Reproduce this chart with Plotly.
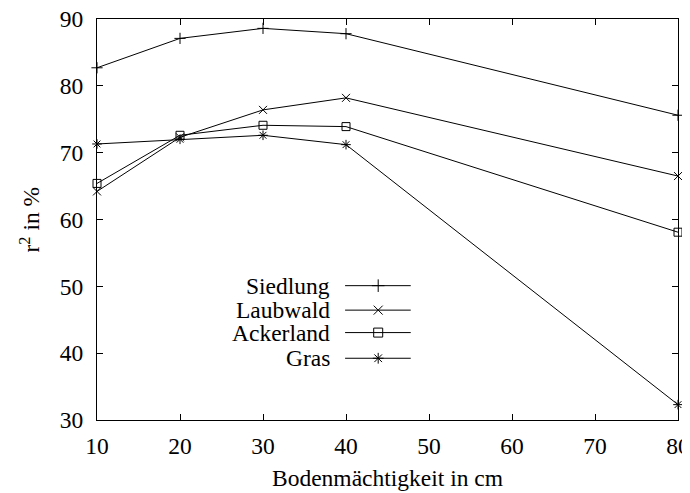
import plotly.graph_objects as go

depth = [10, 20, 30, 40, 80]
siedlung = [82.7, 87.1, 88.6, 87.8, 75.6]
laubwald = [64.2, 72.3, 76.4, 78.2, 66.5]
ackerland = [65.4, 72.6, 74.1, 73.9, 58.1]
gras = [71.3, 72.0, 72.6, 71.2, 32.3]

names = ["Siedlung", "Laubwald", "Ackerland", "Gras"]
series = [siedlung, laubwald, ackerland, gras]
symbols = ["cross-thin-open", "x-thin-open", "square-open", "asterisk-open"]
sizes = [8, 8, 8, 8]

FONT = "Liberation Serif"
FS = 23.5

fig = go.Figure()
for n, s, sym, sz in zip(names, series, symbols, sizes):
    fig.add_trace(go.Scatter(
        x=depth, y=s, name=n, mode="lines+markers",
        line=dict(color="black", width=1),
        marker=dict(symbol=sym, size=sz, color="black",
                    line=dict(color="black", width=1)),
        showlegend=False, cliponaxis=False,
    ))

# custom gnuplot-style key on an overlay axis (0..1)
key_y = [0.335, 0.274, 0.218, 0.154]
for n, sym, sz, ky in zip(names, symbols, sizes, key_y):
    fig.add_trace(go.Scatter(
        x=[0.427, 0.540], y=[ky, ky], xaxis="x2", yaxis="y2",
        mode="lines", line=dict(color="black", width=1),
        showlegend=False, hoverinfo="skip"))
    fig.add_trace(go.Scatter(
        x=[0.484], y=[ky], xaxis="x2", yaxis="y2",
        mode="markers",
        marker=dict(symbol=sym, size=sz + 1, color="black",
                    line=dict(color="black", width=1)),
        showlegend=False, hoverinfo="skip"))
    fig.add_annotation(
        x=0.405, y=ky, xref="x2", yref="y2", text=n, showarrow=False,
        xanchor="right", yanchor="middle",
        font=dict(family=FONT, size=FS, color="black"))

axis_common = dict(
    showgrid=False, zeroline=False, showline=True, linecolor="black",
    linewidth=1, mirror="ticks", ticks="inside", ticklen=6,
    tickcolor="black", tickwidth=1, automargin=False,
    ticklabeloverflow="allow",
    tickfont=dict(family=FONT, size=FS, color="black"),
)

fig.add_annotation(
    x=0.5, y=0, xref="paper", yref="paper", yshift=-58,
    text="Bodenmächtigkeit in cm", showarrow=False,
    xanchor="center", yanchor="middle",
    font=dict(family=FONT, size=FS, color="black"))
fig.add_annotation(
    x=0, y=0.5, xref="paper", yref="paper", xshift=-68,
    text="r<sup>2</sup> in %", showarrow=False, textangle=-90,
    xanchor="center", yanchor="middle",
    font=dict(family=FONT, size=FS, color="black"))

# the page body adds an 8px offset, so the figure is 8px smaller
fig.update_layout(
    width=682, height=485,
    margin=dict(l=89, r=12, t=11, b=73, autoexpand=False),
    plot_bgcolor="white", paper_bgcolor="white",
    font=dict(family=FONT, size=FS, color="black"),
    showlegend=False,
    xaxis=dict(range=[10, 80], tickvals=[10, 20, 30, 40, 50, 60, 70, 80],
               ticklabelstandoff=5, **axis_common),
    yaxis=dict(range=[30, 90], tickvals=[30, 40, 50, 60, 70, 80, 90],
               ticklabelstandoff=8, **axis_common),
    xaxis2=dict(range=[0, 1], overlaying="x", visible=False, fixedrange=True),
    yaxis2=dict(range=[0, 1], overlaying="y", visible=False, fixedrange=True),
)

fig.write_html("out.html")
